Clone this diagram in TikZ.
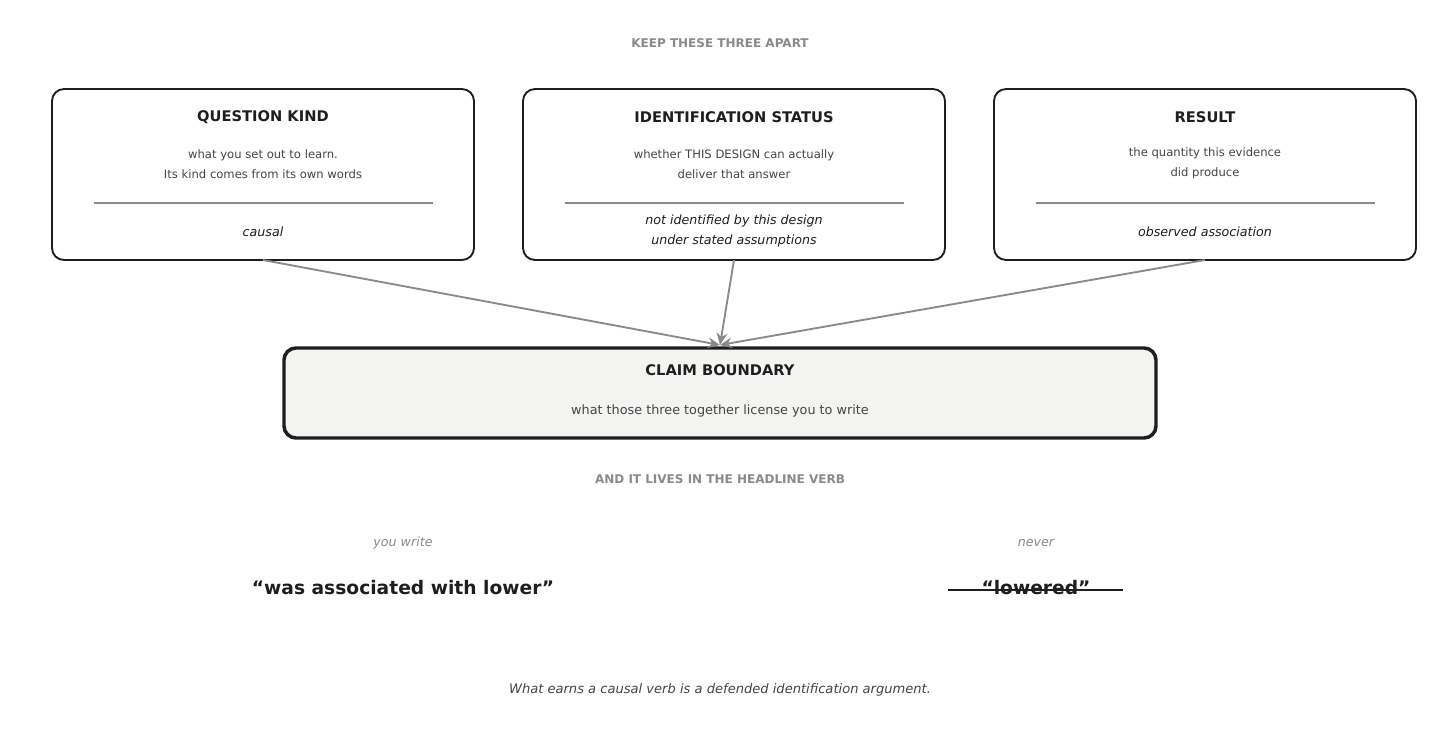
\documentclass[tikz,border=0pt]{standalone}
\usepackage{fontspec}
\setmainfont{DejaVu Sans}
\usetikzlibrary{arrows.meta}
\definecolor{ink}{HTML}{1E1E1E}
\definecolor{mid}{HTML}{444444}
\definecolor{gr}{HTML}{8A8A8A}
\definecolor{pale}{HTML}{F3F3F2}
\begin{document}
\begin{tikzpicture}[x=0.75pt,y=-0.75pt,
  box/.style={draw=ink,line width=1.4pt,rounded corners=9pt},
  ttl/.style={font=\fontsize{11}{13}\selectfont\bfseries,text=ink},
  sub/.style={font=\fontsize{8.7}{15}\selectfont,text=mid,align=center},
  val/.style={font=\fontsize{9.5}{15.5}\selectfont\itshape,text=ink,align=center},
  sep/.style={draw=gr,line width=0.9pt},
  hdr/.style={font=\fontsize{9}{11}\selectfont\bfseries,text=gr},
  arr/.style={draw=gr,line width=1.4pt,-{Stealth[length=9pt,width=8pt]}}]
\useasboundingbox (0,0) rectangle (1440,750);
\node[hdr] (h1) at (720,43) {KEEP THESE THREE APART};
% boxes
\draw[box] (52,89) rectangle (474,260);
\draw[box] (523,89) rectangle (945,260);
\draw[box] (994,89) rectangle (1416,260);
\coordinate (q) at (263,260);
\coordinate (i) at (734,260);
\coordinate (r) at (1205,260);
\node[ttl] (qt) at (263,117) {QUESTION KIND};
\node[sub] (qs) at (263,164) {what you set out to learn.\\Its kind comes from its own words};
\draw[sep] (94,203) -- (433,203);
\node[val] (qv) at (263,232) {causal};
\node[ttl] (it) at (734,117) {IDENTIFICATION STATUS};
\node[sub] (is) at (734,164) {whether THIS DESIGN can actually\\deliver that answer};
\draw[sep] (565,203) -- (904,203);
\node[val] (iv) at (734,231) {not identified by this design\\under stated assumptions};
\node[ttl] (rt) at (1205,117) {RESULT};
\node[sub] (rs) at (1205,163) {the quantity this evidence\\did produce};
\draw[sep] (1036,203) -- (1375,203);
\node[val] (rv) at (1205,232) {observed association};
% claim
\draw[box,fill=pale,line width=2.6pt] (284,348) rectangle (1156,438);
\coordinate (c) at (720,345);
\node[ttl] (ct) at (720,370) {CLAIM BOUNDARY};
\node[sub,font=\fontsize{9.6}{12}\selectfont] (cs) at (720,411) {what those three together license you to write};
\draw[arr] (q) -- (c);
\draw[arr] (i) -- (c);
\draw[arr] (r) -- (c);
\node[hdr] (h2) at (720,479) {AND IT LIVES IN THE HEADLINE VERB};
\node[font=\fontsize{9.5}{12}\selectfont\itshape,text=gr] (yw) at (403,543) {you write};
\node[font=\fontsize{9.5}{12}\selectfont\itshape,text=gr] (nv) at (1036,543) {never};
\node[font=\fontsize{14}{16}\selectfont\bfseries,text=ink] (good) at (403,588) {“was associated with lower”};
\node[font=\fontsize{14}{16}\selectfont\bfseries,text=ink] (bad) at (1036,588) {“lowered”};
\draw[ink,line width=1.3pt] (948,590) -- (1123,590);
\node[font=\fontsize{9.8}{12}\selectfont\itshape,text=mid] (ft) at (720,690) {What earns a causal verb is a defended identification argument.};
\end{tikzpicture}
\end{document}
